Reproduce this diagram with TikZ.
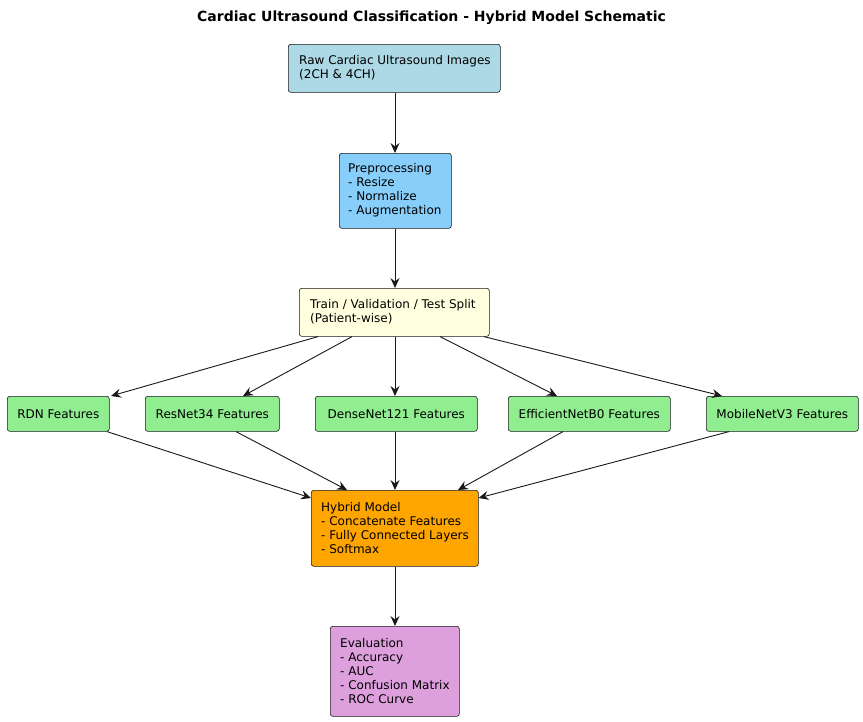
\documentclass[tikz,border=0pt]{standalone}
\usepackage{fontspec}
\setmainfont{DejaVu Sans}
\usetikzlibrary{arrows.meta,calc}
\definecolor{edge}{HTML}{181818}
\definecolor{cRaw}{HTML}{ADD8E6}
\definecolor{cPre}{HTML}{87CEFA}
\definecolor{cSplit}{HTML}{FFFFE0}
\definecolor{cFeat}{HTML}{90EE90}
\definecolor{cHyb}{HTML}{FFA500}
\definecolor{cEval}{HTML}{DDA0DD}
\tikzset{
  box/.style={draw=edge, line width=0.6pt, rounded corners=2.5pt, anchor=north west,
    align=left, inner xsep=0pt, inner ysep=0pt,
    font=\fontsize{12}{14}\selectfont},
  conn/.style={draw=edge, line width=0.9pt, -{Stealth[length=10pt,width=9pt,inset=3.5pt]}},
}
\newcommand{\bx}[8]{% name, x, y, w, h, fill, text
  \node[box, fill=#6, minimum width=#4pt, minimum height=#5pt, text width=#4pt-2*#8pt] (#1) at (#2,#3) {\hspace*{#8pt}#7};}
\begin{document}
\begin{tikzpicture}[x=1pt,y=-1pt]
\useasboundingbox (0,0) rectangle (863,721);
\node[font=\bfseries\fontsize{14}{16}\selectfont] (title) at (431.5,18) {Cardiac Ultrasound Classification - Hybrid Model Schematic};
\node[box, fill=cRaw, minimum width=212pt, minimum height=48pt, text width=190pt, inner xsep=11pt] (raw) at (288,44) {};
\node[anchor=west, align=left, font=\fontsize{12}{14}\selectfont, inner sep=0pt] (rawt) at (299,68) {Raw Cardiac Ultrasound Images\\(2CH \& 4CH)};

\node[box, fill=cPre, minimum width=112pt, minimum height=75pt] (pre) at (339,153) {};
\node[anchor=west, align=left, font=\fontsize{12}{14}\selectfont, inner sep=0pt] (pret) at (348,190.5) {Preprocessing\\- Resize\\- Normalize\\- Augmentation};

\node[box, fill=cSplit, minimum width=190pt, minimum height=48pt] (split) at (299,288) {};
\node[anchor=west, align=left, font=\fontsize{12}{14}\selectfont, inner sep=0pt] (splitt) at (310,312) {Train / Validation / Test Split\\(Patient-wise)};

\node[box, fill=cFeat, minimum width=102pt, minimum height=35pt] (rdn) at (7,396) {};
\node[font=\fontsize{12}{14}\selectfont, inner sep=0pt] (rdnt) at (rdn.center) {RDN Features};
\node[box, fill=cFeat, minimum width=134pt, minimum height=35pt] (res) at (145,396) {};
\node[font=\fontsize{12}{14}\selectfont, inner sep=0pt] (rest) at (res.center) {ResNet34 Features};
\node[box, fill=cFeat, minimum width=162pt, minimum height=35pt] (dense) at (315,396) {};
\node[font=\fontsize{12}{14}\selectfont, inner sep=0pt] (denset) at (dense.center) {DenseNet121 Features};
\node[box, fill=cFeat, minimum width=162pt, minimum height=35pt] (eff) at (508,396) {};
\node[font=\fontsize{12}{14}\selectfont, inner sep=0pt] (efft) at (eff.center) {EfficientNetB0 Features};
\node[box, fill=cFeat, minimum width=152pt, minimum height=35pt] (mob) at (706,396) {};
\node[font=\fontsize{12}{14}\selectfont, inner sep=0pt] (mobt) at (mob.center) {MobileNetV3 Features};

\node[box, fill=cHyb, minimum width=167pt, minimum height=76pt] (hyb) at (311,490) {};
\node[anchor=west, align=left, font=\fontsize{12}{14}\selectfont, inner sep=0pt] (hybt) at (321,528) {Hybrid Model\\- Concatenate Features\\- Fully Connected Layers\\- Softmax};

\node[box, fill=cEval, minimum width=129pt, minimum height=90pt] (ev) at (330,626) {};
\node[anchor=west, align=left, font=\fontsize{12}{14}\selectfont, inner sep=0pt] (evt) at (340,671) {Evaluation\\- Accuracy\\- AUC\\- Confusion Matrix\\- ROC Curve};

\draw[conn] (raw.south -| 395,0) -- (pre.north -| 395,0);
\draw[conn] (pre.south -| 395,0) -- (split.north -| 395,0);

\draw[conn] (split.south -| 318,0) -- (rdn.north -| 111,0);
\draw[conn] (split.south -| 352,0) -- (res.north -| 243,0);
\draw[conn] (split.south -| 395,0) -- (dense.north -| 395,0);
\draw[conn] (split.south -| 440,0) -- (eff.north -| 557,0);
\draw[conn] (split.south -| 484,0) -- (mob.north -| 722,0);

\draw[conn] (rdn.south -| 107,0) -- ($(hyb.north west)+(0,8)$);
\draw[conn] (res.south -| 236,0) -- (hyb.north -| 347,0);
\draw[conn] (dense.south -| 395,0) -- (hyb.north -| 395,0);
\draw[conn] (eff.south -| 563,0) -- (hyb.north -| 458,0);
\draw[conn] (mob.south -| 729,0) -- ($(hyb.north east)+(0,8)$);

\draw[conn] (hyb.south -| 395,0) -- (ev.north -| 395,0);
\end{tikzpicture}
\end{document}
